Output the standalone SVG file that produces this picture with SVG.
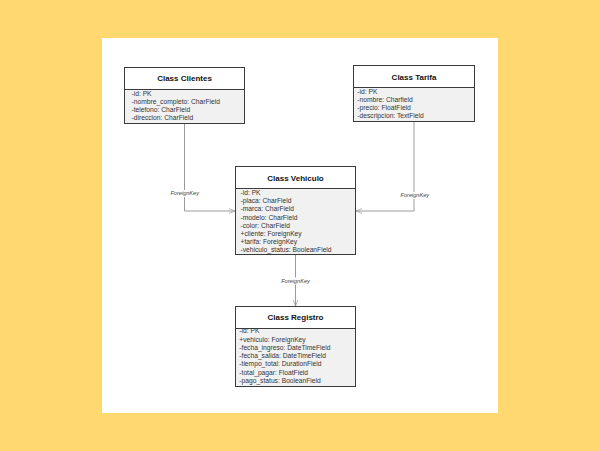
<svg xmlns="http://www.w3.org/2000/svg" width="600" height="451" viewBox="0 0 600 451">
<style>
.hd{fill:#ffffff;stroke:#3a3a3a;stroke-width:1}
.bd{fill:#f1f1f1;stroke:#3a3a3a;stroke-width:1}
.t{font-family:"Liberation Sans",Arial,sans-serif;font-size:8px;font-weight:bold;fill:#111;text-anchor:middle}
.a{font-family:"Liberation Sans",Arial,sans-serif;font-size:6.7px;fill:#333}
.l{font-family:"Liberation Sans",Arial,sans-serif;font-size:5.6px;font-style:italic;fill:#444;text-anchor:middle}
.c{fill:none;stroke:#9a9a9a;stroke-width:1}
</style>
<defs>
<marker id="arr" viewBox="0 0 10 10" refX="10" refY="5" markerWidth="6" markerHeight="6" orient="auto" markerUnits="userSpaceOnUse">
<path d="M0,1 L10,5 L0,9" fill="none" stroke="#9a9a9a" stroke-width="1.2"/>
</marker>
</defs>
<rect x="0" y="0" width="600" height="451" fill="#ffd970"/>
<rect x="102" y="38" width="396" height="375" fill="#ffffff"/>
<g id="connectors">
<path class="c" d="M184.5 123.5 V211 H235" marker-end="url(#arr)"/>
<path class="c" d="M414 121.5 V211 H356" marker-end="url(#arr)"/>
<path class="c" d="M295.5 254.5 V306" marker-end="url(#arr)"/>
<rect x="170" y="190" width="29" height="7" fill="#ffffff"/>
<text class="l" x="184.7" y="195.2">ForeignKey</text>
<rect x="400" y="192" width="29" height="7" fill="#ffffff"/>
<text class="l" x="414.8" y="197">ForeignKey</text>
<rect x="281" y="277.5" width="29" height="7" fill="#ffffff"/>
<text class="l" x="295.5" y="282.7">ForeignKey</text>
</g>
<g id="clientes">
<rect class="bd" x="124.5" y="67.5" width="120" height="56"/>
<rect class="hd" x="124.5" y="67.5" width="120" height="22"/>
<text class="t" x="184.5" y="81">Class Clientes</text>
<text class="a" x="131.5" y="96.3">-id: PK</text>
<text class="a" x="131.5" y="104.1">-nombre_completo: CharField</text>
<text class="a" x="131.5" y="111.9">-telefono: CharField</text>
<text class="a" x="131.5" y="119.8">-direccion: CharField</text>
</g>
<g id="tarifa">
<rect class="bd" x="353.5" y="65.5" width="121" height="56"/>
<rect class="hd" x="353.5" y="65.5" width="121" height="22"/>
<text class="t" x="414" y="79.7">Class Tarifa</text>
<text class="a" x="357.3" y="94">-id: PK</text>
<text class="a" x="357.3" y="102.1">-nombre: Charfield</text>
<text class="a" x="357.3" y="110">-precio: FloatField</text>
<text class="a" x="357.3" y="118">-descripcion: TextField</text>
</g>
<g id="vehiculo">
<rect class="bd" x="235.5" y="166.5" width="120" height="88"/>
<rect class="hd" x="235.5" y="166.5" width="120" height="22"/>
<text class="t" x="295.5" y="180.5">Class Vehiculo</text>
<text class="a" x="240.5" y="195">-id: PK</text>
<text class="a" x="240.5" y="203.2">-placa: CharField</text>
<text class="a" x="240.5" y="211.4">-marca: CharField</text>
<text class="a" x="240.5" y="219.6">-modelo: CharField</text>
<text class="a" x="240.5" y="227.8">-color: CharField</text>
<text class="a" x="240.5" y="236">+cliente: ForeignKey</text>
<text class="a" x="240.5" y="244.2">+tarifa: ForeignKey</text>
<text class="a" x="240.5" y="252.4">-vehiculo_status: BooleanField</text>
</g>
<g id="registro">
<rect class="bd" x="235.5" y="306.5" width="120" height="80"/>
<rect class="hd" x="235.5" y="306.5" width="120" height="22"/>
<text class="t" x="295.5" y="320">Class Registro</text>
<text class="a" x="239.3" y="333.3">-id: PK</text>
<text class="a" x="239.3" y="341.6">+vehiculo: ForeignKey</text>
<text class="a" x="239.3" y="349.8">-fecha_ingreso: DateTimeField</text>
<text class="a" x="239.3" y="358.1">-fecha_salida: DateTimeField</text>
<text class="a" x="239.3" y="366.3">-tiempo_total: DurationField</text>
<text class="a" x="239.3" y="374.6">-total_pagar: FloatField</text>
<text class="a" x="239.3" y="382.8">-pago_status: BooleanField</text>
</g>
</svg>
